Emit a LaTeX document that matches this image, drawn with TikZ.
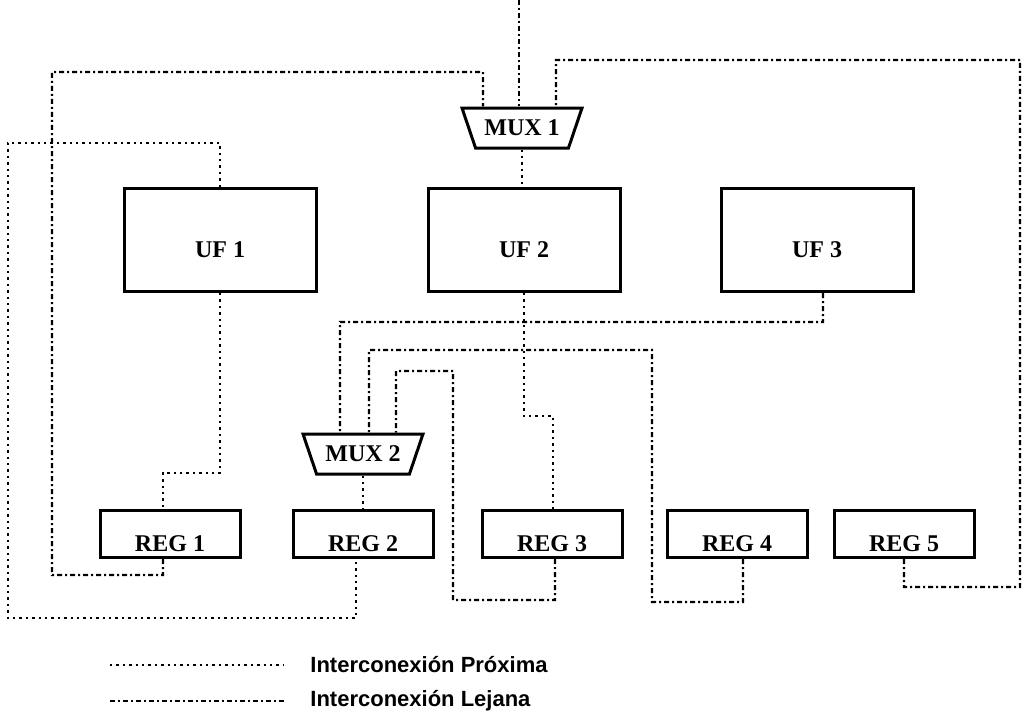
\documentclass[tikz,border=0pt]{standalone}
\usepackage{fontspec}
\setmainfont{Liberation Serif}
\newfontfamily\legendfont{Liberation Sans}
\usetikzlibrary{shapes.geometric,positioning,calc}

\begin{document}
\begin{tikzpicture}[x=0.5pt, y=-0.5pt,
  uf/.style={draw, line width=1.5pt, minimum width=96pt, minimum height=51.5pt,
             inner sep=3pt, text height=31.5pt, text depth=14pt,
             font=\bfseries\fontsize{12}{14}\selectfont},
  reg/.style={draw, line width=1.5pt, minimum width=70pt, minimum height=23.5pt,
              inner sep=3pt, text height=17.5pt, text depth=0pt,
              font=\bfseries\fontsize{12}{14}\selectfont},
  mux/.style={draw, line width=1.5pt, trapezium, shape border rotate=180,
              trapezium angle=56, trapezium stretches body, minimum width=60pt,
              minimum height=20pt, inner sep=1pt, fill=white,
              font=\bfseries\fontsize{12}{14}\selectfont},
  proxima/.style={line width=1.2pt, dotted},
  lejana/.style={line width=1.2pt, dash pattern=on 2.5pt off 1.5pt on 1pt off 1.5pt},
  leyenda/.style={anchor=west, inner sep=0pt,
                  font=\legendfont\bfseries\fontsize{11}{13}\selectfont}]
\useasboundingbox (0,0) rectangle (1036,717);

% multiplexores
\node[mux] (mux1) at (522,128) {MUX 1};
\node[mux] (mux2) at (363,454) {MUX 2};

% unidades funcionales
\node[uf] (uf1) at (220,240) {UF 1};
\node[uf] (uf2) at (524,240) {UF 2};
\node[uf] (uf3) at (817,240) {UF 3};

% registros
\node[reg] (reg1) at (170,534) {REG 1};
\node[reg] (reg2) at (363,534) {REG 2};
\node[reg] (reg3) at (552,534) {REG 3};
\node[reg] (reg4) at (737,534) {REG 4};
\node[reg] (reg5) at (904,534) {REG 5};

% entrada superior
\coordinate (entrada) at (519,0);
\draw[lejana] (entrada) -- (entrada |- mux1.north);

% interconexion lejana
\draw[lejana] ($(reg1.south)+(-7,0)$) |- (52,575) |- (483,72) -- ($(mux1.north)+(-39,0)$);
\draw[lejana] (reg5.south) |- (1020,587) |- (556,60) -- ($(mux1.north)+(34,0)$);
\draw[lejana] ($(uf3.south)+(6,0)$) |- (340,322) -- ($(mux2.north)+(-23,0)$);
\draw[lejana] ($(reg4.south)+(6,0)$) |- (652,602) |- (369,350) -- ($(mux2.north)+(6,0)$);
\draw[lejana] ($(reg3.south)+(3,0)$) |- (453,600) |- (396,371) -- ($(mux2.north)+(33,0)$);

% interconexion proxima
\draw[proxima] (mux1.south) -- (mux1.south |- uf2.north);
\draw[proxima] (uf1.north) |- (8,143) |- (356,618) -- ($(reg2.south)+(-7,0)$);
\draw[proxima] (uf1.south) |- (163,473) -- ($(reg1.north)+(-7,0)$);
\draw[proxima] (uf2.south) |- (553,416) -- ($(reg3.north)+(1,0)$);
\draw[proxima] (mux2.south) -- (mux2.south |- reg2.north);

% leyenda
\coordinate (p1) at (110,665);
\coordinate (p2) at (283,665);
\coordinate (l1) at (110,701);
\coordinate (l2) at (287,701);
\draw[proxima] (p1) -- (p2);
\draw[lejana] (l1) -- (l2);
\node[leyenda] (tprox) at (310,665) {Interconexión Próxima};
\node[leyenda] (tlej) at (310,701) {Interconexión Lejana};
\end{tikzpicture}
\end{document}
